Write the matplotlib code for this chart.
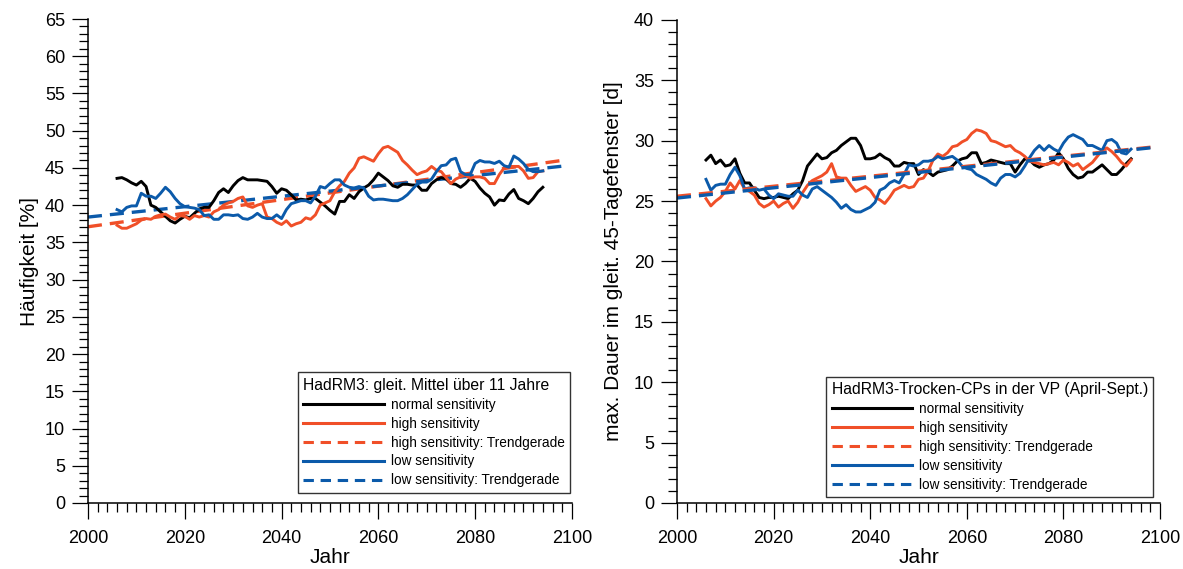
import matplotlib
matplotlib.use("Agg")
import matplotlib.pyplot as plt
from matplotlib.lines import Line2D
from matplotlib.ticker import MultipleLocator

plt.rcParams["font.family"] = ["Liberation Sans", "DejaVu Sans"]

years = list(range(2006, 2095))

# Häufigkeit [%] – gleitendes 11-jähriges Mittel
freq_normal = [
    43.6, 43.7, 43.4, 43.0, 42.7, 43.2, 42.5, 40.0, 39.7, 39.1,
    38.5, 37.9, 37.6, 38.1, 38.5, 38.3, 38.9, 39.5, 39.7, 39.7,
    40.6, 41.7, 42.2, 41.7, 42.6, 43.3, 43.7, 43.4, 43.4, 43.4,
    43.3, 43.2, 42.5, 41.6, 42.2, 42.0, 41.4, 40.7, 40.8, 40.7,
    40.9, 40.9, 40.4, 39.9, 39.3, 38.8, 40.5, 40.5, 41.4, 40.9,
    41.8, 42.3, 42.7, 43.4, 44.3, 43.8, 43.3, 42.6, 42.4, 42.8,
    42.8, 42.7, 42.7, 42.0, 42.0, 42.9, 43.4, 43.7, 43.5, 42.9,
    42.8, 42.4, 42.9, 43.6, 43.2, 42.3, 41.6, 41.1, 40.0, 40.7,
    40.6, 41.5, 42.1, 40.9, 40.6, 40.2, 40.9, 41.8, 42.4,
]
freq_high = [
    37.3, 36.9, 36.9, 37.2, 37.5, 38.0, 38.2, 38.1, 38.5, 38.7,
    38.8, 38.4, 38.1, 38.6, 38.5, 38.1, 38.6, 38.4, 38.6, 38.4,
    39.1, 39.4, 40.0, 40.3, 40.5, 40.9, 41.1, 39.9, 39.7, 40.0,
    40.2, 38.4, 38.2, 37.7, 37.4, 37.9, 37.2, 37.5, 37.7, 38.3,
    38.1, 38.7, 40.0, 40.3, 40.6, 41.8, 42.6, 43.2, 44.3, 45.0,
    46.3, 46.5, 46.2, 45.9, 46.9, 47.7, 47.9, 47.5, 47.1, 46.0,
    45.4, 44.7, 44.1, 44.4, 44.6, 45.2, 44.7, 44.5, 43.7, 42.9,
    43.5, 43.8, 44.0, 43.6, 43.8, 43.8, 43.6, 42.9, 42.9, 44.1,
    45.0, 45.2, 45.2, 45.2, 44.6, 43.6, 43.7, 44.5, 44.6,
]
freq_low = [
    39.4, 39.1, 39.7, 39.9, 39.9, 41.6, 41.2, 41.2, 40.9, 41.6,
    42.4, 41.8, 40.9, 40.2, 39.8, 39.7, 39.6, 39.4, 38.6, 38.7,
    38.1, 38.1, 38.7, 38.7, 38.6, 38.7, 38.2, 38.1, 38.4, 38.9,
    38.4, 38.2, 38.2, 38.7, 38.2, 39.4, 40.2, 40.4, 40.6, 40.6,
    40.3, 41.2, 42.5, 42.3, 42.9, 43.4, 43.4, 42.7, 42.4, 42.3,
    42.5, 42.3, 41.2, 40.7, 40.8, 40.8, 40.7, 40.6, 40.6, 40.9,
    41.4, 42.1, 42.8, 43.1, 43.1, 43.5, 44.5, 45.3, 45.4, 46.1,
    46.3, 44.5, 44.1, 44.1, 45.6, 46.0, 45.8, 45.8, 45.6, 45.9,
    45.3, 45.1, 46.6, 46.2, 45.6, 44.8, 44.5, 44.5, 44.6,
]

# max. Dauer [d] im gleitenden 45-Tagefenster
dur_normal = [
    28.4, 28.8, 28.1, 28.4, 27.9, 28.0, 28.5, 27.3, 26.5, 26.5,
    25.9, 25.3, 25.2, 25.3, 25.3, 25.4, 25.3, 25.2, 25.6, 25.9,
    26.7, 27.9, 28.4, 28.9, 28.5, 28.6, 29.0, 29.2, 29.6, 29.9,
    30.2, 30.2, 29.6, 28.5, 28.5, 28.6, 28.9, 28.6, 28.4, 27.9,
    27.9, 28.2, 28.1, 28.1, 27.2, 27.6, 27.4, 27.1, 27.4, 27.5,
    27.6, 27.9, 28.3, 28.5, 28.6, 29.0, 29.0, 28.1, 28.2, 28.4,
    28.3, 28.2, 28.1, 28.1, 27.4, 28.0, 28.5, 28.4, 28.0, 27.8,
    28.0, 28.1, 28.4, 29.0, 28.5, 27.7, 27.2, 26.9, 27.0, 27.4,
    27.4, 27.7, 28.0, 27.6, 27.2, 27.2, 27.6, 28.1, 28.5,
]
dur_high = [
    25.2, 24.6, 25.0, 25.3, 25.8, 26.5, 26.0, 26.7, 26.0, 25.8,
    25.5, 24.8, 24.5, 24.7, 25.0, 24.5, 24.8, 25.0, 24.4, 24.9,
    25.7, 26.3, 26.7, 26.9, 27.1, 27.4, 28.1, 27.0, 26.9, 26.9,
    26.3, 25.8, 26.0, 26.2, 25.9, 25.3, 25.1, 24.8, 25.3, 25.9,
    26.1, 26.3, 26.1, 26.2, 26.8, 26.9, 27.5, 28.4, 28.9, 28.7,
    29.0, 29.5, 29.6, 29.9, 30.1, 30.6, 30.9, 30.8, 30.6, 30.0,
    29.9, 29.7, 29.5, 29.6, 29.2, 29.0, 28.7, 28.3, 28.2, 28.1,
    28.0, 28.1, 28.2, 28.0, 28.4, 28.2, 27.9, 28.1, 27.6, 27.9,
    28.2, 28.7, 29.2, 29.4, 29.1, 28.7, 28.2, 27.9, 28.4,
]
dur_low = [
    26.8, 25.9, 26.3, 26.4, 26.4, 27.2, 27.8, 27.1, 26.0, 26.1,
    26.1, 25.9, 26.0, 25.5, 25.2, 25.6, 25.5, 25.4, 25.4, 25.9,
    25.5, 25.3, 26.0, 26.2, 25.9, 25.6, 25.3, 24.9, 24.4, 24.7,
    24.3, 24.1, 24.1, 24.3, 24.5, 24.9, 25.9, 26.1, 26.5, 26.7,
    26.5, 27.2, 28.0, 27.9, 28.0, 28.3, 28.3, 28.4, 28.7, 28.5,
    28.6, 28.7, 28.4, 27.9, 27.7, 27.6, 27.2, 27.0, 26.8, 26.5,
    26.3, 26.9, 27.2, 27.2, 27.0, 27.3, 27.9, 28.6, 29.2, 29.6,
    29.2, 29.6, 29.3, 29.1, 29.8, 30.3, 30.5, 30.3, 30.1, 29.6,
    29.6, 29.4, 29.2, 30.0, 30.1, 29.8, 29.0, 28.9, 29.3,
]

# Trendgeraden: Anfangs- und Endwert
trend_years = [2000, 2099]
freq_trend_high = [37.1, 46.1]
freq_trend_low = [38.4, 45.3]
dur_trend_high = [25.4, 29.5]
dur_trend_low = [25.25, 29.45]

BLACK = "#000000"
RED = "#F04F28"
BLUE = "#0B5AAA"

LW = 2.1
TREND_LW = 2.4
TREND_DASH = (4.2, 2.4)


def style_axes(ax, ymax, ylabel, ylabelpad):
    ax.set_xlim(2000, 2100)
    ax.set_ylim(0, ymax)
    for side in ("top", "right"):
        ax.spines[side].set_visible(False)
    for side in ("left", "bottom"):
        ax.spines[side].set_linewidth(1.1)
    ax.xaxis.set_major_locator(MultipleLocator(20))
    ax.xaxis.set_minor_locator(MultipleLocator(2))
    ax.yaxis.set_major_locator(MultipleLocator(5))
    ax.yaxis.set_minor_locator(MultipleLocator(1))
    ax.tick_params(axis="both", which="major", direction="out", length=11.5,
                   width=0.9, labelsize=13)
    ax.tick_params(axis="both", which="minor", direction="out", length=6.5,
                   width=0.9)
    ax.tick_params(axis="x", which="major", pad=8)
    ax.tick_params(axis="y", which="major", pad=5)
    ax.set_xlabel("Jahr", fontsize=15, labelpad=1)
    ax.set_ylabel(ylabel, fontsize=15, labelpad=ylabelpad)


def add_legend(ax, title, anchor):
    handles = [
        Line2D([], [], color=BLACK, lw=2.2),
        Line2D([], [], color=RED, lw=2.2),
        Line2D([], [], color=RED, lw=2.2, dashes=(3.4, 2.2)),
        Line2D([], [], color=BLUE, lw=2.2),
        Line2D([], [], color=BLUE, lw=2.2, dashes=(3.4, 2.2)),
    ]
    labels = [
        "normal sensitivity",
        "high sensitivity",
        "high sensitivity: Trendgerade",
        "low sensitivity",
        "low sensitivity: Trendgerade",
    ]
    leg = ax.legend(handles, labels, title=title, loc="lower right",
                    bbox_to_anchor=anchor, fontsize=9.8, title_fontsize=11.3,
                    handlelength=5.9, handletextpad=0.5, labelspacing=0.36,
                    borderpad=0.4, fancybox=False, framealpha=1.0,
                    edgecolor="#333333", borderaxespad=0.0)
    leg.get_frame().set_linewidth(1.0)
    leg._legend_box.align = "left"
    leg.get_title().set_ha("center")
    return leg


fig = plt.figure(figsize=(11.83, 5.69), dpi=100)
ax1 = fig.add_axes([0.0744, 0.116, 0.409, 0.8506])
ax2 = fig.add_axes([0.5723, 0.116, 0.4083, 0.849])

# linkes Diagramm: Häufigkeit
ax1.plot(trend_years, freq_trend_high, color=RED, lw=TREND_LW, dashes=TREND_DASH)
ax1.plot(trend_years, freq_trend_low, color=BLUE, lw=TREND_LW, dashes=TREND_DASH)
ax1.plot(years, freq_normal, color=BLACK, lw=LW)
ax1.plot(years, freq_high, color=RED, lw=LW)
ax1.plot(years, freq_low, color=BLUE, lw=LW)
style_axes(ax1, 65, "Häufigkeit [%]", 4)
add_legend(ax1, "HadRM3: gleit. Mittel über 11 Jahre", (0.996, 0.021))

# rechtes Diagramm: maximale Dauer
ax2.plot(years, dur_normal, color=BLACK, lw=LW)
ax2.plot(years, dur_high, color=RED, lw=LW)
ax2.plot(years, dur_low, color=BLUE, lw=LW)
ax2.plot(trend_years, dur_trend_high, color=RED, lw=TREND_LW, dashes=TREND_DASH)
ax2.plot(trend_years, dur_trend_low, color=BLUE, lw=TREND_LW, dashes=TREND_DASH)
style_axes(ax2, 40, "max. Dauer im gleit. 45-Tagefenster [d]", 8)
add_legend(ax2, "HadRM3-Trocken-CPs in der VP (April-Sept.)", (0.986, 0.012))

fig.savefig("out.png", dpi=100)
